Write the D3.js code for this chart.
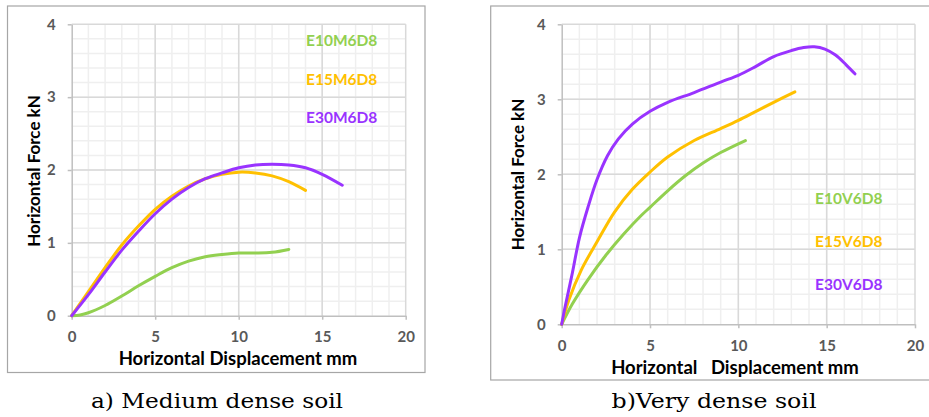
<!DOCTYPE html>
<html>
<head>
<meta charset="utf-8">
<script src="https://cdn.jsdelivr.net/npm/d3@7"></script>
<style>
body{margin:0;background:#fff}
svg text{font-family:Lato, "Open Sans", sans-serif}
</style>
</head>
<body>
<div id="chart"></div>
<script>
// tick labels, both panels use the same
var xTicks = [0, 5, 10, 15, 20]
var yTicks = [0, 1, 2, 3, 4]

// a) medium dense soil, [displacement mm, force kN]
var E10M6D8 = [[0,0],[0.5,0.01],[1,0.04],[2,0.14],[3,0.27],[4,0.41],[5,0.54],[6,0.66],[7,0.75],[8,0.81],[9,0.84],[10,0.86],[11,0.86],[12,0.87],[13,0.91]]
var E15M6D8 = [[0,0],[1,0.33],[2,0.66],[3,0.97],[4,1.23],[5,1.46],[6,1.64],[7,1.78],[8,1.88],[9,1.94],[10,1.97],[11,1.96],[12,1.92],[13,1.84],[14,1.72]]
var E30M6D8 = [[0,0],[1,0.29],[2,0.6],[3,0.9],[4,1.16],[5,1.4],[6,1.6],[7,1.76],[8,1.88],[9,1.96],[10,2.03],[11,2.07],[12,2.08],[13,2.07],[14,2.03],[15,1.94],[16.2,1.79]]

// b) very dense soil
var E10V6D8 = [[0,0],[0.6,0.27],[1.5,0.6],[2.5,0.92],[3.5,1.2],[4.5,1.45],[5,1.56],[6,1.78],[7,1.98],[8,2.15],[9,2.29],[10.4,2.45]]
var E15V6D8 = [[0,0],[0.4,0.32],[1.1,0.72],[2,1.1],[3,1.5],[4,1.8],[5,2.03],[6,2.23],[7.5,2.45],[9,2.61],[10,2.72],[11,2.84],[12,2.96],[13.2,3.1]]
var E30V6D8 = [[0,0],[0.2,0.24],[0.6,0.68],[1,1.15],[1.5,1.57],[2,1.93],[2.6,2.25],[3.2,2.47],[4,2.67],[5,2.84],[6,2.96],[7.5,3.09],[9,3.23],[10,3.32],[11,3.44],[12,3.57],[13,3.65],[13.7,3.69],[14.3,3.7],[14.9,3.67],[15.5,3.59],[16.1,3.46],[16.6,3.34]]

var namesA = ["E10M6D8", "E15M6D8", "E30M6D8"]
var namesB = ["E10V6D8", "E15V6D8", "E30V6D8"]
var colors = ["#92d050", "#ffc000", "#9933ff"]

var svg = d3.select("#chart")
  .append("svg")
  .attr("width", 929)
  .attr("height", 417)

svg.append("rect").attr("width", 929).attr("height", 417).attr("fill", "#fff")

function makePanel(p, series, names) {
  var x = d3.scaleLinear().domain([0, 20]).range([p.left, p.right])
  var y = d3.scaleLinear().domain([0, 4]).range([p.bottom, p.top])

  // frame round the panel
  svg.append("rect")
    .attr("x", p.box[0]).attr("y", p.box[1])
    .attr("width", p.box[2] - p.box[0]).attr("height", p.box[3] - p.box[1])
    .attr("fill", "none")
    .attr("stroke", "#a6a6a6")
    .attr("stroke-width", 1.2)

  // minor grid
  svg.append("g")
    .attr("stroke", "#efefef")
    .attr("stroke-width", 1.5)
    .call(g => g.selectAll("line.vx")
      .data(d3.range(1, 20))
      .join("line")
        .attr("x1", d => x(d)).attr("x2", d => x(d))
        .attr("y1", y(0)).attr("y2", y(4)))
    .call(g => g.selectAll("line.hy")
      .data(d3.range(1, 20).map(d => d * 0.2))
      .join("line")
        .attr("y1", d => y(d)).attr("y2", d => y(d))
        .attr("x1", x(0)).attr("x2", x(20)))

  // major grid
  svg.append("g")
    .attr("stroke", "#d9d9d9")
    .attr("stroke-width", 1.5)
    .call(g => g.selectAll("line.vx")
      .data(xTicks.slice(1))
      .join("line")
        .attr("x1", d => x(d)).attr("x2", d => x(d))
        .attr("y1", y(0)).attr("y2", y(4)))
    .call(g => g.selectAll("line.hy")
      .data(yTicks.slice(1))
      .join("line")
        .attr("y1", d => y(d)).attr("y2", d => y(d))
        .attr("x1", x(0)).attr("x2", x(20)))

  var xAxis = svg.append("g")
    .attr("transform", `translate(0,${y(0)})`)
    .call(d3.axisBottom(x).tickValues(xTicks).tickFormat(d3.format("d"))
      .tickSize(4).tickSizeOuter(0).tickPadding(12))
  var yAxis = svg.append("g")
    .attr("transform", `translate(${x(0)},0)`)
    .call(d3.axisLeft(y).tickValues(yTicks).tickFormat(d3.format("d"))
      .tickSize(4).tickSizeOuter(0).tickPadding(12))

  ;[xAxis, yAxis].forEach(a => {
    a.select(".domain").attr("stroke", "#bfbfbf").attr("stroke-width", 1.5)
    a.selectAll(".tick line").attr("stroke", "#bfbfbf").attr("stroke-width", 1.5)
    a.selectAll(".tick text")
      .attr("fill", "#595959")
      .style("font-family", "Lato, sans-serif")
      .style("font-size", "15px")
      .style("font-weight", "bold")
  })

  // curves
  var drawLine = d3.line()
    .x(d => x(d[0]))
    .y(d => y(d[1]))
    .curve(d3.curveCatmullRom.alpha(0.5))

  series.forEach((s, i) => {
    svg.append("path")
      .datum(s)
      .attr("fill", "none")
      .attr("stroke", colors[i])
      .attr("stroke-width", 3)
      .attr("stroke-linecap", "round")
      .attr("d", drawLine)
  })

  // labels next to the curves
  names.forEach((n, i) => {
    svg.append("text")
      .attr("x", p.legendX)
      .attr("y", p.legendY[i])
      .attr("dominant-baseline", "central")
      .attr("fill", colors[i])
      .style("font-size", "15.5px")
      .style("font-weight", "bold")
      .text(n)
  })

  svg.append("text")
    .attr("x", p.xTitle[0]).attr("y", p.xTitle[1])
    .attr("text-anchor", "middle")
    .attr("dominant-baseline", "central")
    .style("font-size", "18.5px")
    .style("font-weight", "bold")
    .style("white-space", "pre")
    .text(p.xLabel)

  svg.append("text")
    .attr("transform", `translate(${p.yTitle[0]},${p.yTitle[1]}) rotate(-90)`)
    .attr("text-anchor", "middle")
    .attr("dominant-baseline", "central")
    .style("font-size", "17px")
    .style("font-weight", "bold")
    .text("Horizontal Force kN")

  svg.append("text")
    .attr("x", p.caption[0]).attr("y", p.caption[1])
    .attr("text-anchor", "middle")
    .attr("textLength", p.caption[2])
    .attr("lengthAdjust", "spacingAndGlyphs")
    .style("font-family", "'DejaVu Serif', serif")
    .style("font-size", "21px")
    .text(p.captionText)
}

makePanel({
  box: [7.5, 6, 425, 372.5],
  left: 71.7, right: 405.7, top: 24.3, bottom: 315.7,
  legendX: 306, legendY: [40, 78.5, 117],
  xTitle: [238, 358], xLabel: "Horizontal Displacement mm",
  yTitle: [33.5, 171],
  caption: [217, 408, 252], captionText: "a) Medium dense soil"
}, [E10M6D8, E15M6D8, E30M6D8], namesA)

makePanel({
  box: [490.7, 6, 940, 380],
  left: 561.7, right: 915, top: 24.3, bottom: 324.3,
  legendX: 815, legendY: [198, 241, 284],
  xTitle: [735, 367], xLabel: "Horizontal   Displacement mm",
  yTitle: [517.5, 174.5],
  caption: [714, 408, 205], captionText: "b)Very dense soil"
}, [E10V6D8, E15V6D8, E30V6D8], namesB)
</script>
</body>
</html>
